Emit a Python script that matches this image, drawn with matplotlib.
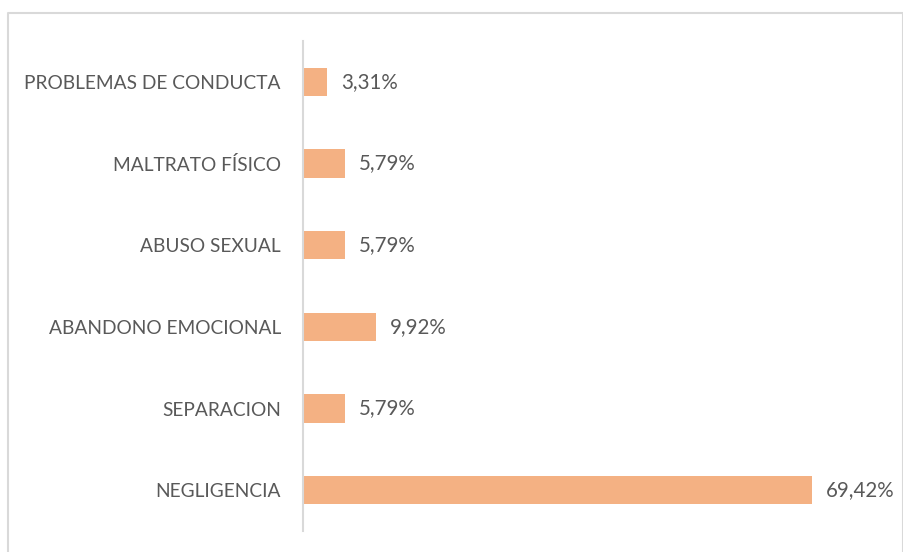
import matplotlib.pyplot as plt
from matplotlib.lines import Line2D

categories = ["NEGLIGENCIA", "SEPARACION", "ABANDONO EMOCIONAL",
              "ABUSO SEXUAL", "MALTRATO FÍSICO", "PROBLEMAS DE CONDUCTA"]
values = [69.42, 5.79, 9.92, 5.79, 5.79, 3.31]
value_labels = ["69,42%", "5,79%", "9,92%", "5,79%", "5,79%", "3,31%"]

plt.rcParams["font.family"] = ["Lato", "DejaVu Sans"]
text_color = "#595959"

fig = plt.figure(figsize=(9.04, 5.52), dpi=100)
ax = fig.add_axes([303 / 904, 1 - 531 / 552, 586 / 904, 490 / 552])

y = range(len(categories))
ax.barh(y, values, height=0.343, color="#F4B183")
ax.set_xlim(0, 80)
ax.set_ylim(-0.5, len(categories) - 0.5)

for yi, v, lab in zip(y, values, value_labels):
    ax.annotate(lab, (v, yi), xytext=(10, 0), textcoords="offset points",
                va="center", ha="left", fontsize=14.8, color=text_color)

ax.set_yticks(list(y))
ax.set_yticklabels(categories, fontsize=13.8, color=text_color)
ax.tick_params(axis="y", length=0, pad=16)
ax.set_xticks([])
for side in ["top", "right", "bottom"]:
    ax.spines[side].set_visible(False)
ax.spines["left"].set_color("#D9D9D9")
ax.spines["left"].set_linewidth(1.5)

# chart area border (bottom edge runs off the image)
W, H = 904, 552
xs = [8 / W, 8 / W, 903 / W, 903 / W]
ys = [-0.1, 1 - 13 / H, 1 - 13 / H, -0.1]
fig.add_artist(Line2D(xs, ys, transform=fig.transFigure, color="#D9D9D9", lw=1.5))

fig.savefig("out.png", dpi=100)
